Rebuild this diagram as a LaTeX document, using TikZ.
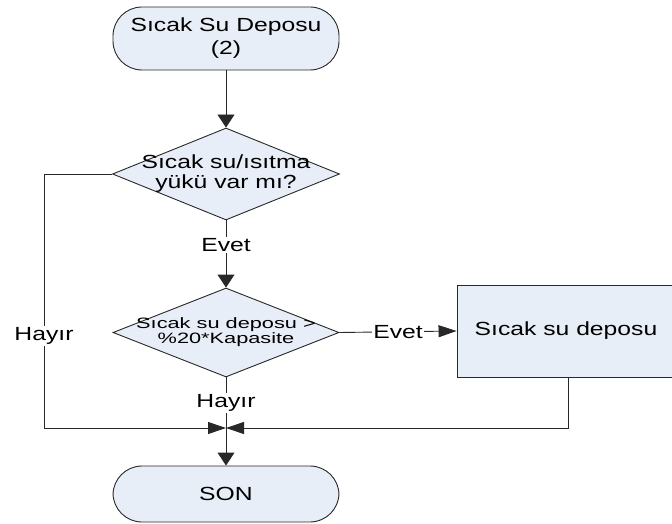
\documentclass[tikz,border=0pt]{standalone}
\usepackage{fontspec}
\setmainfont{Liberation Sans}[FakeStretch=1.3]
\newfontfamily\condfont{Liberation Sans}[FakeStretch=1.45]
\usetikzlibrary{shapes.geometric,arrows.meta}
\definecolor{boxfill}{RGB}{232,238,248}
\definecolor{edge}{RGB}{40,40,40}
\tikzset{
  base/.style={draw=edge, line width=0.9pt, fill=boxfill, inner sep=0pt, align=center,
    font=\fontsize{19}{23}\selectfont},
  terminal/.style={base, rectangle, rounded corners=29pt, minimum width=226pt},
  decision/.style={base, diamond},
  process/.style={base, rectangle},
  conn/.style={draw=edge, line width=0.9pt},
  tipv/.style={-{Triangle[length=13pt,width=17pt]}},
  tiph/.style={-{Triangle[length=18pt,width=12pt]}},
  lbl/.style={fill=white, inner sep=1.5pt, font=\fontsize{19}{23}\selectfont},
}
\begin{document}
\begin{tikzpicture}[x=1pt,y=-1pt]
  \useasboundingbox (0,0) rectangle (672,524);

  % shapes
  \node[terminal, minimum height=63pt] (start) at (226,38.5) {Sıcak Su Deposu\\(2)};
  \node[decision, minimum width=227pt, minimum height=92pt,
        label={[font=\fontsize{19}{20}\selectfont, align=center]center:{Sıcak su/ısıtma\\yükü var mı?}}]
        (d1) at (226,174) {};
  \node[decision, minimum width=226pt, minimum height=89pt,
        label={[font=\condfont\fontsize{15}{15}\selectfont, align=center]center:{Sıcak su deposu >\\\%20*Kapasite}}]
        (d2) at (226,332.5) {};
  \node[process, minimum width=218pt, minimum height=92pt] (tank) at (566,331) {Sıcak su deposu};
  \clip (0,0) rectangle (672,524);
  \node[terminal, minimum height=56pt] (son) at (226,494) {SON};

  % routing points
  \coordinate (J) at (226,428);
  \coordinate (L1) at (44,174);
  \coordinate (L2) at (44,428);
  \coordinate (R1) at (568,377);
  \coordinate (R2) at (568,428);

  % connectors
  \draw[conn, tipv] (start.south) -- (d1.north);
  \draw[conn, tipv] (d1.south) -- node[lbl, pos=0.37] {Evet} (d2.north);
  \draw[conn, tiph] (d2.east) -- node[lbl] {Evet} (tank.west);
  \draw[conn] (d2.south) -- node[lbl, pos=0.5] {Hayır} (J);
  \draw[conn, tiph] (d1.west) -- (L1) -- node[lbl, pos=0.637] {Hayır} (L2) -- (J);
  \draw[conn, tiph] (R1) -- (R2) -- (J);
  \draw[conn, tipv] (J) -- (son.north);
\end{tikzpicture}
\end{document}
